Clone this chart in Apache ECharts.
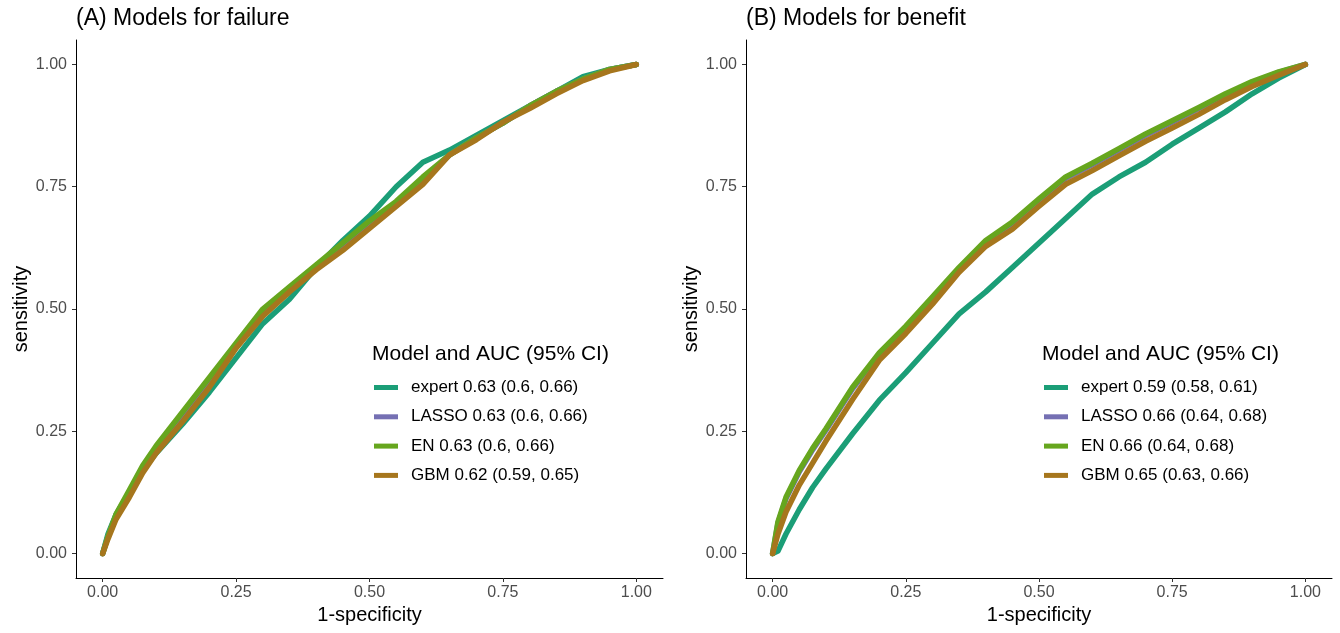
<!DOCTYPE html>
<html>
<head>
<meta charset="utf-8">
<title>ROC curves</title>
<script src="https://cdn.jsdelivr.net/npm/echarts@6/dist/echarts.min.js"></script>
<style>
  html, body { margin: 0; padding: 0; background: #fff; }
  #main { width: 1340px; height: 633px; }
</style>
</head>
<body>
<div id="main"></div>
<script>
// 1-specificity grid shared by every curve
var fprGrid = [0, 0.01, 0.025, 0.05, 0.075, 0.1, 0.15, 0.2, 0.25, 0.3, 0.35, 0.4,
  0.45, 0.5, 0.55, 0.6, 0.65, 0.7, 0.75, 0.8, 0.85, 0.9, 0.95, 1];
var tickValues = [0, 0.25, 0.5, 0.75, 1];

var modelNames = ['expert', 'LASSO', 'EN', 'GBM'];
var modelColors = ['#1B9E77', '#7570B3', '#66A61E', '#A6761D'];

// (A) failure: sensitivity
var failExpert = [0, 0.04, 0.08, 0.125, 0.17, 0.205, 0.265, 0.33, 0.40, 0.47, 0.52, 0.585,
  0.64, 0.69, 0.75, 0.80, 0.825, 0.855, 0.885, 0.915, 0.945, 0.975, 0.99, 1];
var failLasso = [0, 0.035, 0.078, 0.125, 0.175, 0.215, 0.285, 0.355, 0.425, 0.49, 0.54, 0.585,
  0.63, 0.675, 0.715, 0.765, 0.815, 0.85, 0.88, 0.915, 0.945, 0.97, 0.99, 1];
var failEn = [0, 0.035, 0.08, 0.13, 0.18, 0.22, 0.29, 0.36, 0.43, 0.50, 0.545, 0.59,
  0.635, 0.68, 0.72, 0.77, 0.815, 0.85, 0.88, 0.915, 0.945, 0.97, 0.99, 1];
var failGbm = [0, 0.03, 0.07, 0.115, 0.165, 0.205, 0.27, 0.34, 0.42, 0.485, 0.535, 0.58,
  0.62, 0.665, 0.71, 0.755, 0.815, 0.846, 0.882, 0.91, 0.94, 0.967, 0.987, 1];
var failAuc = ['0.63 (0.6, 0.66)', '0.63 (0.6, 0.66)', '0.63 (0.6, 0.66)', '0.62 (0.59, 0.65)'];

// (B) benefit
var benExpert = [0, 0.005, 0.04, 0.09, 0.135, 0.173, 0.245, 0.313, 0.37, 0.43, 0.49, 0.535,
  0.585, 0.635, 0.685, 0.735, 0.77, 0.80, 0.837, 0.87, 0.903, 0.94, 0.972, 1];
var benLasso = [0, 0.062, 0.112, 0.167, 0.212, 0.252, 0.337, 0.407, 0.462, 0.522, 0.582, 0.637,
  0.675, 0.722, 0.767, 0.795, 0.825, 0.855, 0.882, 0.91, 0.937, 0.963, 0.984, 1];
var benEn = [0, 0.065, 0.115, 0.17, 0.215, 0.255, 0.34, 0.41, 0.465, 0.525, 0.585, 0.64,
  0.678, 0.725, 0.77, 0.798, 0.828, 0.858, 0.885, 0.912, 0.94, 0.965, 0.985, 1];
var benGbm = [0, 0.04, 0.085, 0.14, 0.185, 0.23, 0.315, 0.395, 0.45, 0.51, 0.575, 0.628,
  0.663, 0.71, 0.755, 0.783, 0.813, 0.843, 0.87, 0.898, 0.928, 0.955, 0.978, 1];
var benAuc = ['0.59 (0.58, 0.61)', '0.66 (0.64, 0.68)', '0.66 (0.64, 0.68)', '0.65 (0.63, 0.66)'];

var fontFam = '"Liberation Sans", Arial, sans-serif';

function pairs(ys) {
  return fprGrid.map(function (x, i) { return [x, ys[i]]; });
}

function makeXAxis(idx) {
  return {
    gridIndex: idx, type: 'value', min: -0.05, max: 1.05,
    name: '1-specificity', nameLocation: 'middle', nameGap: 27,
    nameTextStyle: { fontSize: 20, color: '#000', fontFamily: fontFam },
    axisLine: { onZero: false, lineStyle: { color: '#000', width: 1 } },
    axisTick: { show: true, length: 4, customValues: tickValues, lineStyle: { color: '#333' } },
    axisLabel: {
      customValues: tickValues, margin: 7, fontSize: 16, color: '#4D4D4D', fontFamily: fontFam,
      formatter: function (v) { return v.toFixed(2); }
    },
    splitLine: { show: false }
  };
}
function makeYAxis(idx) {
  return {
    gridIndex: idx, type: 'value', min: -0.05, max: 1.05,
    name: 'sensitivity', nameLocation: 'middle', nameGap: 45,
    nameTextStyle: { fontSize: 20, color: '#000', fontFamily: fontFam },
    axisLine: { show: true, onZero: false, lineStyle: { color: '#000', width: 1 } },
    axisTick: { show: true, length: 4, customValues: tickValues, lineStyle: { color: '#333' } },
    axisLabel: {
      customValues: tickValues, margin: 9, fontSize: 16, color: '#4D4D4D', fontFamily: fontFam,
      formatter: function (v) { return v.toFixed(2); }
    },
    splitLine: { show: false }
  };
}

var panels = [
  { curves: [failExpert, failLasso, failEn, failGbm], auc: failAuc },
  { curves: [benExpert, benLasso, benEn, benGbm], auc: benAuc }
];

var series = [];
var legendData = [[], []];
panels.forEach(function (p, pi) {
  p.curves.forEach(function (ys, mi) {
    var nm = modelNames[mi] + ' ' + p.auc[mi];
    legendData[pi].push(nm);
    series.push({
      name: nm, type: 'line', xAxisIndex: pi, yAxisIndex: pi,
      data: pairs(ys), showSymbol: false, symbol: 'none',
      color: modelColors[mi],
      lineStyle: { width: 5.5, color: modelColors[mi], cap: 'round', join: 'round' },
      emphasis: { disabled: true }
    });
  });
});

function makeLegend(idx, left) {
  return {
    data: legendData[idx], orient: 'vertical', left: left, top: 378,
    icon: 'rect', itemWidth: 24, itemHeight: 5, itemGap: 10.3,
    padding: 0, selectedMode: false,
    textStyle: { fontSize: 17, lineHeight: 19, color: '#000', fontFamily: fontFam, padding: [0, 0, 0, 8] }
  };
}

var chart = echarts.init(document.getElementById('main'), null, { renderer: 'canvas' });
chart.setOption({
  animation: false,
  backgroundColor: '#fff',
  title: [
    { text: '(A) Models for failure', left: 76, top: 7, padding: 0,
      textStyle: { fontSize: 23, fontWeight: 'normal', color: '#000', fontFamily: fontFam } },
    { text: '(B) Models for benefit', left: 746, top: 7, padding: 0,
      textStyle: { fontSize: 23, fontWeight: 'normal', color: '#000', fontFamily: fontFam } }
  ],
  grid: [
    { left: 76, top: 40, width: 587, height: 538 },
    { left: 746, top: 40, width: 586, height: 538 }
  ],
  xAxis: [makeXAxis(0), makeXAxis(1)],
  yAxis: [makeYAxis(0), makeYAxis(1)],
  legend: [makeLegend(0, 374), makeLegend(1, 1044)],
  graphic: [
    { type: 'text', left: 372, top: 344,
      style: { text: 'Model and AUC (95% CI)', fontSize: 21, fill: '#000', fontFamily: fontFam } },
    { type: 'text', left: 1042, top: 344,
      style: { text: 'Model and AUC (95% CI)', fontSize: 21, fill: '#000', fontFamily: fontFam } }
  ],
  series: series
});
</script>
</body>
</html>
